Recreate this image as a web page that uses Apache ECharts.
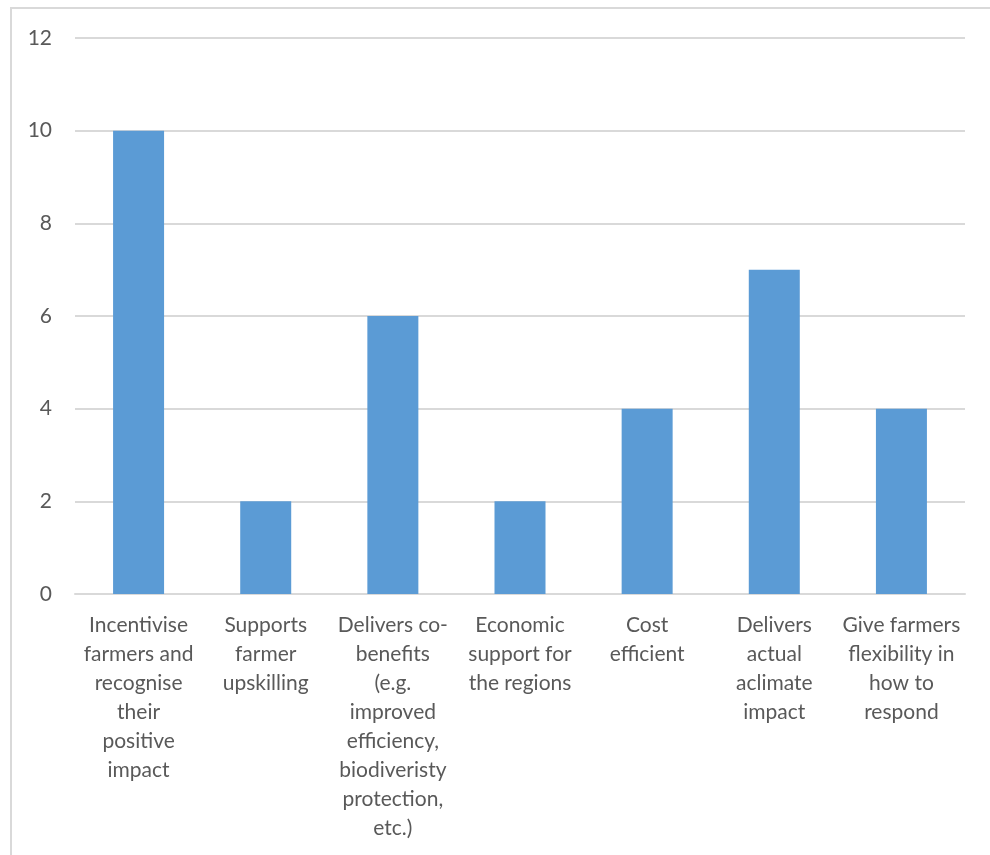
<!DOCTYPE html>
<html><head><meta charset="utf-8">
<script src="https://cdn.jsdelivr.net/npm/echarts@6/dist/echarts.min.js"></script>
<style>html,body{margin:0;padding:0;background:#fff}#c{width:990px;height:855px}</style>
</head><body><div id="c"></div>
<script>
const categories = [
  "Incentivise\nfarmers and\nrecognise\ntheir\npositive\nimpact",
  "Supports\nfarmer\nupskilling",
  "Delivers co-\nbenefits\n(e.g.\nimproved\nefficiency,\nbiodiveristy\nprotection,\netc.)",
  "Economic\nsupport for\nthe regions",
  "Cost\nefficient",
  "Delivers\nactual\naclimate\nimpact",
  "Give farmers\nflexibility in\nhow to\nrespond"
];
const values = [10, 2, 6, 2, 4, 7, 4];
const yTicks = [0, 2, 4, 6, 8, 10, 12];

const chart = echarts.init(document.getElementById('c'));
chart.setOption({
  animation: false,
  graphic: [{type:'rect', shape:{x:11, y:8, width:1000, height:900}, style:{fill:'none', stroke:'#D9D9D9', lineWidth:2}, silent:true}],
  grid: {left:75, right:25, top:38, bottom:261},
  xAxis: {
    type:'category', data:categories,
    axisLine:{lineStyle:{color:'#D9D9D9', width:2}},
    axisTick:{show:false},
    axisLabel:{interval:0, color:'#595959', fontFamily:'Lato', fontSize:21, lineHeight:29, margin:17}
  },
  yAxis: {
    type:'value', min:yTicks[0], max:yTicks[yTicks.length-1], interval:2,
    axisLine:{show:false}, axisTick:{show:false},
    splitLine:{lineStyle:{color:'#D9D9D9', width:2}},
    axisLabel:{color:'#595959', fontFamily:'Lato', fontSize:21, margin:23}
  },
  series: [{type:'bar', data:values, barWidth:51, itemStyle:{color:'#5B9BD5'}}]
});
</script></body></html>
